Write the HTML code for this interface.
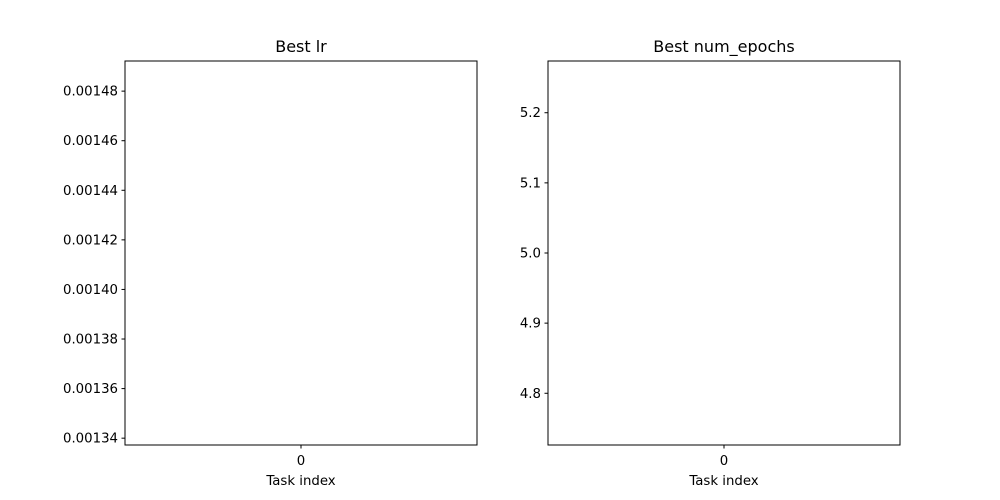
<!DOCTYPE html>
<html><head><meta charset="utf-8"><style>
body{margin:0;background:#fff}
svg{display:block;font-family:"DejaVu Sans","Liberation Sans",sans-serif}
</style></head><body>
<svg id="c" width="1000" height="500"></svg>
<script>
const tasks=[0];
const lrValues=[0.0014147];
const epochValues=[5];
const lrTicks=[0.00134,0.00136,0.00138,0.00140,0.00142,0.00144,0.00146,0.00148];
const lrTickLabels=["0.00134","0.00136","0.00138","0.00140","0.00142","0.00144","0.00146","0.00148"];
const epochTicks=[4.8,4.9,5.0,5.1,5.2];
const epochTickLabels=["4.8","4.9","5.0","5.1","5.2"];
const svg=document.getElementById('c');
const NS='http://www.w3.org/2000/svg';
function mk(t,a,txt){const e=document.createElementNS(NS,t);for(const k in a)e.setAttribute(k,a[k]);if(txt!==undefined)e.textContent=txt;svg.appendChild(e);return e;}
function panel(x0,x1,y0,y1,vals,ticks,labels,title,nm){
  const v=vals[0];const lo=v-Math.abs(v)*0.05475,hi=v+Math.abs(v)*0.05475;
  const ys=d=>y1-(d-lo)/(hi-lo)*(y1-y0);
  const xs=i=>(x0+x1)/2+(i-0)*(x1-x0);
  let r=mk('rect',{x:x0,y:y0,width:x1-x0,height:y1-y0,fill:'none',stroke:'#000','stroke-width':1});
  
  ticks.forEach((t,i)=>{const y=ys(t);
    let l=mk('line',{x1:x0-3.5,x2:x0,y1:y,y2:y,stroke:'#000'});
    
    let tx=mk('text',{x:x0-7,y:y+4.5,'text-anchor':'end','font-size':'13.3'},labels[i]);
    });
  tasks.forEach(t=>{const x=xs(t);
    let l=mk('line',{x1:x,x2:x,y1:y1,y2:y1+3.5,stroke:'#000'});
    
    let tx=mk('text',{x:x,y:y1+20,'text-anchor':'middle','font-size':'13.3'},String(t));
    });
  let p=mk('path',{d:vals.map((d,i)=>(i?'L':'M')+xs(tasks[i])+','+ys(d)).join(''),fill:'none',stroke:'#1f77b4','stroke-width':1.5});
  
  let xt=mk('text',{x:(x0+x1)/2,y:y1+40,'text-anchor':'middle','font-size':'13.3'},'Task index');
  
  let tt=mk('text',{x:(x0+x1)/2,y:y0-9,'text-anchor':'middle','font-size':'16'},title);
  
}
panel(125,477,61,445,lrValues,lrTicks,lrTickLabels,'Best lr','lr');
panel(548,900,61,445,epochValues,epochTicks,epochTickLabels,'Best num_epochs','epochs');
</script>
</body></html>
